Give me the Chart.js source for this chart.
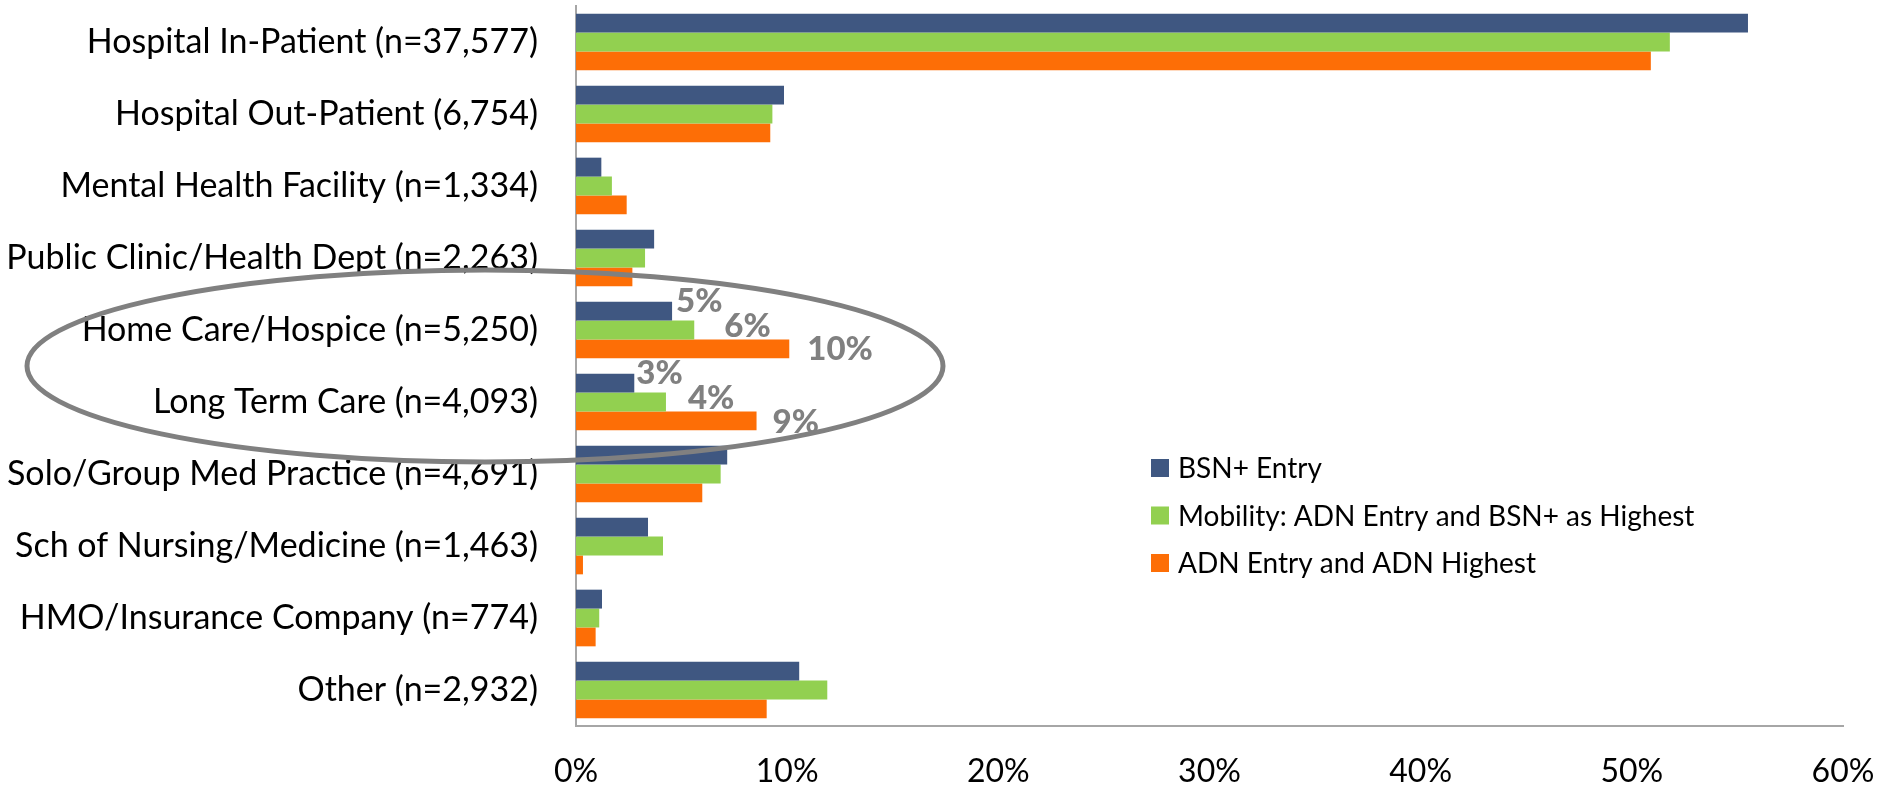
<!DOCTYPE html>
<html>
<head>
<meta charset="utf-8">
<script src="https://cdn.jsdelivr.net/npm/chart.js@4.4.1/dist/chart.umd.min.js"></script>
<style>
  html, body { margin: 0; padding: 0; background: #ffffff; }
  #wrap { width: 1881px; height: 792px; position: relative; }
</style>
</head>
<body>
<div id="wrap"><canvas id="c" width="1881" height="792"></canvas></div>
<script>
// ---------- data ----------
const categories = [
  'Hospital In-Patient (n=37,577)',
  'Hospital Out-Patient (6,754)',
  'Mental Health Facility (n=1,334)',
  'Public Clinic/Health Dept (n=2,263)',
  'Home Care/Hospice (n=5,250)',
  'Long Term Care (n=4,093)',
  'Solo/Group Med Practice (n=4,691)',
  'Sch of Nursing/Medicine (n=1,463)',
  'HMO/Insurance Company (n=774)',
  'Other (n=2,932)'
];
const seriesNames = [
  'BSN+ Entry',
  'Mobility: ADN Entry and BSN+ as Highest',
  'ADN Entry and ADN Highest'
];
const bsnEntry  = [55.5, 9.85, 1.2, 3.7, 4.55, 2.76, 7.16, 3.41, 1.23, 10.57];
const mobility  = [51.8, 9.3, 1.7, 3.27, 5.6, 4.26, 6.85, 4.12, 1.1, 11.9];
const adnOnly   = [50.9, 9.2, 2.4, 2.67, 10.1, 8.55, 5.98, 0.33, 0.93, 9.03];
const xTickValues = [0, 10, 20, 30, 40, 50, 60];
const labeledCategories = ['Home Care/Hospice (n=5,250)', 'Long Term Care (n=4,093)'];

// ---------- styles ----------
const colors = ['#3F5781', '#92D050', '#FD6E06'];
const FONT = 'Lato, "Open Sans", sans-serif';

// data label placement tweaks (per labeled category, per dataset) [dx, dy]
const labelNudges = [
  [[4, -10], [30, -4], [18, 0]],
  [[2, -10], [22, -4], [16, 1]]
];

const dataLabelPlugin = {
  id: 'dataLabels',
  afterDatasetsDraw(chart) {
    const ctx = chart.ctx;
    ctx.save();
    ctx.font = '900 33px ' + FONT;
    ctx.fillStyle = '#808080';
    ctx.textAlign = 'left';
    ctx.textBaseline = 'middle';
    labeledCategories.forEach((cat, ci) => {
      const idx = categories.indexOf(cat);
      chart.data.datasets.forEach((ds, di) => {
        const el = chart.getDatasetMeta(di).data[idx];
        const v = ds.data[idx];
        const n = labelNudges[ci][di];
        ctx.fillText(Math.round(v) + '%', el.x + n[0], el.y + n[1]);
      });
    });
    ctx.restore();
  }
};

const ellipsePlugin = {
  id: 'highlightEllipse',
  afterDraw(chart) {
    const y = chart.scales.y;
    const i1 = categories.indexOf(labeledCategories[0]);
    const i2 = categories.indexOf(labeledCategories[1]);
    const cy = (y.getPixelForValue(i1) + y.getPixelForValue(i2)) / 2;
    const ctx = chart.ctx;
    ctx.save();
    ctx.strokeStyle = '#808080';
    ctx.lineWidth = 5;
    ctx.beginPath();
    ctx.ellipse(485, cy, 458, 96, 0, 0, Math.PI * 2);
    ctx.stroke();
    ctx.restore();
  }
};

const legendPlugin = {
  id: 'customLegend',
  afterDraw(chart) {
    const ctx = chart.ctx;
    ctx.save();
    ctx.font = '28px ' + FONT;
    ctx.textAlign = 'left';
    ctx.textBaseline = 'middle';
    const x0 = 1151, y0 = 468, gap = 47.5, sq = 18;
    chart.data.datasets.forEach((ds, i) => {
      const yc = y0 + i * gap;
      ctx.fillStyle = ds.backgroundColor;
      ctx.fillRect(x0, yc - sq / 2, sq, sq);
      ctx.fillStyle = '#000000';
      ctx.fillText(ds.label, x0 + 27, yc + 1);
    });
    ctx.restore();
  }
};

new Chart(document.getElementById('c'), {
  type: 'bar',
  data: {
    labels: categories,
    datasets: [
      { label: seriesNames[0], data: bsnEntry, backgroundColor: colors[0] },
      { label: seriesNames[1], data: mobility, backgroundColor: colors[1] },
      { label: seriesNames[2], data: adnOnly,  backgroundColor: colors[2] }
    ]
  },
  options: {
    indexAxis: 'y',
    responsive: false,
    animation: false,
    devicePixelRatio: 1,
    datasets: { bar: { categoryPercentage: 0.787, barPercentage: 1.0 } },
    layout: { padding: { top: 6, right: 38, bottom: 0, left: 0 } },
    plugins: {
      legend: { display: false },
      tooltip: { enabled: false }
    },
    scales: {
      x: {
        min: 0, max: 60,
        afterBuildTicks(scale) { scale.ticks = xTickValues.map(v => ({ value: v })); },
        afterFit(scale) {
          scale.height = 66;
          scale.paddingLeft = 0; scale.paddingRight = 0;
        },
        grid: { display: false, drawTicks: false },
        border: { display: true, color: '#a6a6a6', width: 2 },
        ticks: {
          padding: 26,
          color: '#000000',
          font: { family: FONT, size: 32 },
          maxRotation: 0,
          callback: v => v + '%'
        }
      },
      y: {
        afterFit(scale) {
          scale.width = 576;
          scale.paddingTop = 0; scale.paddingBottom = 0;
        },
        grid: { display: false, drawTicks: false },
        border: { display: true, color: '#a6a6a6', width: 2 },
        ticks: {
          padding: 38,
          color: '#000000',
          font: { family: FONT, size: 34 },
          autoSkip: false
        }
      }
    }
  },
  plugins: [dataLabelPlugin, legendPlugin, ellipsePlugin]
});
</script>
</body>
</html>
